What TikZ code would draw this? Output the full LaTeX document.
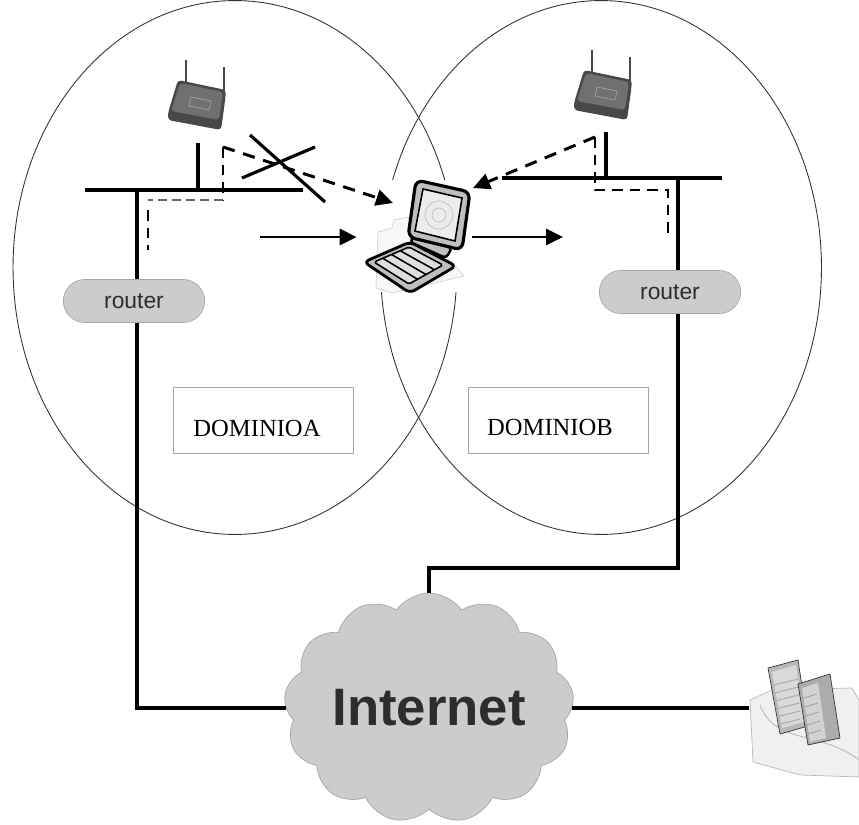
\documentclass[tikz,border=0pt]{standalone}
\usepackage{fontspec}
\setmainfont{Liberation Serif}
\setsansfont{Liberation Sans}
\usetikzlibrary{arrows.meta,positioning,shapes.misc,shapes.symbols,calc}
\definecolor{rtrgray}{RGB}{204,204,204}
\definecolor{cloudgray}{RGB}{204,204,204}
\definecolor{apdark}{RGB}{72,72,72}
\definecolor{apmid}{RGB}{112,112,112}
\definecolor{txtgray}{RGB}{45,45,45}

% wireless access point, #1 = shift of its body centre
\newcommand{\accesspoint}[1]{%
  \begin{scope}[shift={#1}]
    \draw[line width=1.3pt,apdark] (-11,-20) -- (-11,-45);
    \draw[line width=1.3pt,apdark] (27,-14) -- (27,-38);
    \fill[apdark,rounded corners=2pt] (-19,-25) -- (29,-15) -- (28,-4) -- (24,25) -- (-29,15) -- (-29,8) -- cycle;
    \fill[apmid,rounded corners=2pt] (-17,-22) -- (26,-13) -- (22,15) -- (-26,6) -- cycle;
    \draw[gray!75,line width=0.4pt] (-6,-8) -- (14,-4) -- (12,5) -- (-8,1) -- cycle;
  \end{scope}}

\begin{document}
\begin{tikzpicture}[x=0.02cm,y=-0.02cm,
  rtr/.style={rounded rectangle,draw=gray!70,fill=rtrgray,minimum width=3.06cm,
    minimum height=0.86cm,font=\sffamily\fontsize{13}{15}\selectfont,text=txtgray},
  dombox/.style={draw=gray!70,minimum width=3.6cm,minimum height=1.32cm},
  domtext/.style={font=\fontsize{14}{16}\selectfont},
  wire/.style={line width=2pt},
  arr/.style={-{Triangle[length=3.4mm,width=3.2mm]},line width=1.7pt},
  warr/.style={-{Triangle[length=3.4mm,width=3.2mm]},line width=1.7pt,dash pattern=on 7pt off 5pt},
  wdash/.style={line width=1.2pt,dash pattern=on 6pt off 4pt},
  wthin/.style={line width=0.6pt,gray!80!black,dash pattern=on 5pt off 3pt},
  xmark/.style={line width=1.8pt}
]
  \useasboundingbox (0,0) rectangle (859,825);

  % the two wireless domains
  \draw[line width=0.5pt,black!80] (235,267.5) ellipse [x radius=4.44cm,y radius=5.34cm];
  \draw[line width=0.5pt,black!80] (601,267.5) ellipse [x radius=4.41cm,y radius=5.34cm];

  \node[dombox] (domA) at (263,420) {};
  \node[domtext] at (257,428) {DOMINIOA};
  \node[dombox] (domB) at (558,420) {};
  \node[domtext] at (550,427) {DOMINIOB};

  % main nodes
  \node[rtr] (routerA) at (134,301) {router};
  \node[rtr] (routerB) at (670,292) {router};
  \node[cloud,cloud puffs=13,cloud puff arc=110,cloud ignores aspect,draw=gray!70,
    fill=cloudgray,minimum width=5.3cm,minimum height=4.6cm,
    font=\sffamily\bfseries\fontsize{30}{32}\selectfont,text=txtgray] (inet) at (429,708) {Internet};
  \node[fill=white,minimum width=1.8cm,minimum height=2.24cm] (laptop) at (417,236) {};
  \node[minimum width=2.2cm,minimum height=2.3cm] (srv) at (804,722) {};

  % access points
  \accesspoint{(197,105)}
  \accesspoint{(603,95)}

  % wired side of domain A
  \coordinate (busAw) at (85,190);
  \coordinate (busAe) at (303,190);
  \coordinate (stubA) at (198,143);
  \coordinate (jA) at (137,190);
  \draw[wire] (busAw) -- (busAe);
  \draw[wire] (stubA) -- (stubA |- busAw);
  \draw[wire] (jA) -- (jA |- routerA.north);
  \draw[wire] (jA |- routerA.south) |- (inet.west);

  % wired side of domain B
  \coordinate (busBw) at (502,178);
  \coordinate (busBe) at (722,178);
  \coordinate (stubB) at (606,132);
  \coordinate (jB) at (678,178);
  \coordinate (kink) at (678,568);
  \draw[wire] (busBw) -- (busBe);
  \draw[wire] (stubB) -- (stubB |- busBw);
  \draw[wire] (jB) -- (jB |- routerB.north);
  \draw[wire] (jB |- routerB.south) -- (kink) -| (inet.north);
  \draw[wire] (inet.east) -- (inet.east -| srv.west);

  % laptop
  \fill[gray!6,draw=gray!35,line width=0.4pt] (378,232) -- (392,228) -- (394,220) -- (408,217)
    -- (411,224) -- (452,262) -- (464,276) -- (392,293) -- (376,288) -- cycle;
  \fill[gray!50,draw=black,line width=1.6pt,rounded corners=3pt]
    (364,262) -- (410,242) -- (456,266) -- (410,293) -- cycle;
  \fill[gray!25,draw=black,line width=0.9pt,rounded corners=1pt]
    (374,262) -- (409,247) -- (443,265) -- (409,284) -- cycle;
  \foreach \k in {1,2,3}
    \draw[line width=0.9pt] ($(374,262)!\k/4!(409,247)$) -- ($(409,284)!\k/4!(443,265)$);
  \fill[gray!50,draw=black,line width=1.4pt,rounded corners=2pt]
    (410,242) -- (416,232) -- (452,248) -- (446,258) -- cycle;
  \fill[gray!50,draw=black,line width=1.8pt,rounded corners=4pt]
    (416,180) -- (470,192) -- (462,250) -- (408,237) -- cycle;
  \fill[gray!15,draw=black,line width=0.9pt]
    (423,189) -- (462,198) -- (455,241) -- (415,231) -- cycle;
  \draw[gray!45,line width=0.5pt] (439,215) circle [radius=0.14cm];
  \draw[gray!45,line width=0.5pt] (439,215) circle [radius=0.28cm];

  % roaming between the domains
  \coordinate (wlA) at (223,147);
  \coordinate (tipA) at (393,203);
  \coordinate (dA) at (148,200);
  \coordinate (dAend) at (148,250);
  \draw[wdash] (wlA) -- (wlA |- dA);
  \draw[wthin] (wlA |- dA) -- (dA);
  \draw[wdash] ([yshift=-0.2cm]dA) -- (dAend);
  \draw[warr] (wlA) -- (tipA);
  \draw[xmark] (250,135) -- (325,202);
  \draw[xmark] (242,178) -- (315,147);

  \coordinate (wlB) at (595,137);
  \coordinate (tipB) at (473,188);
  \coordinate (dB) at (668,190);
  \coordinate (dBend) at (668,237);
  \draw[wdash] (wlB) |- (dB) -- (dBend);
  \draw[warr] (wlB) -- (tipB);

  \coordinate (moveA) at (260,237);
  \coordinate (moveB) at (563,237);
  \draw[arr] (moveA) -- ([xshift=-0.3cm]laptop.west |- moveA);
  \draw[arr] ([xshift=0.2cm]laptop.east |- moveB) -- (moveB);

  % server
  \fill[gray!12,draw=gray!55,line width=0.4pt] (750,700) -- (772,690) -- (852,688) -- (859,700)
    -- (859,777) -- (800,775) -- (753,762) -- cycle;
  \draw[gray!55,line width=0.5pt] (760,705) .. controls (775,745) and (820,730) .. (859,760);
  \fill[gray!55,draw=gray!40!black,line width=0.4pt] (768,668) -- (798,660) -- (808,726) -- (780,734) -- cycle;
  \fill[gray!30] (772,672) -- (796,665) -- (804,722) -- (782,728) -- cycle;
  \foreach \k in {0,...,5}
    \draw[gray!65,line width=0.6pt] ($(774,685)+(0.5*\k,8*\k)$) -- ++(24,-6);
  \fill[gray!65,draw=gray!40!black,line width=0.4pt] (798,684) -- (830,674) -- (840,738) -- (808,745) -- cycle;
  \fill[gray!35] (802,688) -- (818,683) -- (826,738) -- (810,742) -- cycle;
  \foreach \k in {0,...,4}
    \draw[gray!70,line width=0.6pt] ($(804,698)+(1*\k,9*\k)$) -- ++(13,-4);
\end{tikzpicture}
\end{document}
